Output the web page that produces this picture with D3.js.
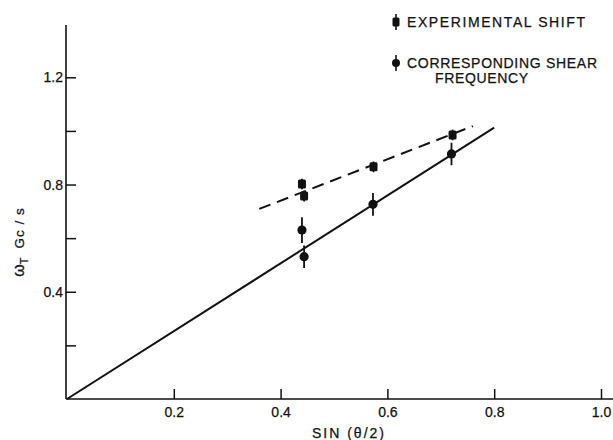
<!DOCTYPE html>
<html>
<head>
<meta charset="utf-8">
<script src="https://cdn.jsdelivr.net/npm/d3@7"></script>
<style>
  html, body { margin: 0; padding: 0; background: #fff; }
  svg text { font-family: "Liberation Sans", Arial, sans-serif; fill: #111; stroke: #111; stroke-width: 0.25; }
</style>
</head>
<body>
<svg id="chart" width="613" height="440"></svg>
<script>
// ---- data ----
const shiftX   = [0.44, 0.444, 0.574, 0.722];
const shiftY   = [0.802, 0.757, 0.866, 0.985];
const shiftErr = [0.02, 0.02, 0.02, 0.02];

const shearX   = [0.44, 0.444, 0.573, 0.72];
const shearY   = [0.630, 0.531, 0.726, 0.914];
const shearErr = [0.048, 0.042, 0.042, 0.042];

const solidLineX = [0, 0.80];
const solidLineY = [0, 1.012];
const dashLineX  = [0.36, 0.76];
const dashLineY  = [0.709, 1.018];

const xTicks = [0.2, 0.4, 0.6, 0.8, 1.0];
const xTickLabels = ["0.2", "0.4", "0.6", "0.8", "1.0"];
const yTicks = [0.2, 0.4, 0.6, 0.8, 1.0, 1.2];
const yTickLabels = ["", "0.4", "", "0.8", "", "1.2"];

const legendLabels = ["EXPERIMENTAL  SHIFT", "CORRESPONDING  SHEAR", "FREQUENCY"];

// ---- scales ----
const svg = d3.select("#chart");
const x = d3.scaleLinear().domain([0, 1]).range([67, 601]);
const y = d3.scaleLinear().domain([0, 1.2]).range([399, 77.3]);
const ink = "#111";

// axes lines
svg.append("line").attr("x1", x(0) - 1).attr("x2", 613).attr("y1", y(0)).attr("y2", y(0))
  .attr("stroke", ink).attr("stroke-width", 1.6);
svg.append("line").attr("x1", x(0) - 1).attr("x2", x(0) - 1).attr("y1", y(0)).attr("y2", 25)
  .attr("stroke", ink).attr("stroke-width", 1.6);

// x axis ticks
const xAxis = d3.axisBottom(x).tickValues(xTicks).tickSizeInner(-10).tickSizeOuter(0)
  .tickPadding(8).tickFormat((d, i) => xTickLabels[i]);
const gx = svg.append("g").attr("transform", `translate(0,${y(0)})`).call(xAxis);
gx.select(".domain").remove();
gx.selectAll(".tick line").attr("stroke", ink).attr("stroke-width", 1.5);
gx.selectAll(".tick text").attr("font-size", 14).attr("fill", ink).attr("font-family", "Liberation Sans, Arial, sans-serif");

// y axis ticks
const yAxis = d3.axisLeft(y).tickValues(yTicks).tickSizeInner(-10).tickSizeOuter(0)
  .tickPadding(3).tickFormat((d, i) => yTickLabels[i]);
const gy = svg.append("g").attr("transform", `translate(${x(0) - 1},0)`).call(yAxis);
gy.select(".domain").remove();
gy.selectAll(".tick line").attr("stroke", ink).attr("stroke-width", 1.5);
gy.selectAll(".tick text").attr("font-size", 14).attr("fill", ink).attr("font-family", "Liberation Sans, Arial, sans-serif");

// axis titles
svg.append("text").attr("x", 349).attr("y", 438).attr("text-anchor", "middle")
  .attr("font-size", 14).attr("letter-spacing", 2)
  .text("SIN (θ/2)");

const yt = svg.append("text").attr("transform", "translate(24,242) rotate(-90)")
  .attr("text-anchor", "middle").attr("font-size", 16);
yt.append("tspan").text("ω");
yt.append("tspan").attr("font-size", 11).attr("dy", 4).text("T");
yt.append("tspan").attr("dy", -4).attr("font-size", 13.5).attr("dx", 9).attr("letter-spacing", 1).text("Gc / s");

// lines
const line = d3.line().x(d => x(d[0])).y(d => y(d[1]));
svg.append("path").datum(solidLineX.map((v, i) => [v, solidLineY[i]]))
  .attr("d", line).attr("fill", "none").attr("stroke", ink).attr("stroke-width", 2);
svg.append("path").datum(dashLineX.map((v, i) => [v, dashLineY[i]]))
  .attr("d", line).attr("fill", "none").attr("stroke", ink).attr("stroke-width", 2)
  .attr("stroke-dasharray", "12,7");

// error bars
function errBars(xs, ys, es) {
  svg.append("g").selectAll("line").data(xs.map((v, i) => [v, ys[i], es[i]])).join("line")
    .attr("x1", d => x(d[0])).attr("x2", d => x(d[0]))
    .attr("y1", d => y(d[1] - d[2])).attr("y2", d => y(d[1] + d[2]))
    .attr("stroke", ink).attr("stroke-width", 1.8);
}
errBars(shiftX, shiftY, shiftErr);
errBars(shearX, shearY, shearErr);

// markers
svg.append("g").selectAll("rect").data(shiftX.map((v, i) => [v, shiftY[i]])).join("rect")
  .attr("x", d => x(d[0]) - 4).attr("y", d => y(d[1]) - 4.5)
  .attr("width", 8).attr("height", 9).attr("rx", 1.5).attr("fill", ink);
svg.append("g").selectAll("circle").data(shearX.map((v, i) => [v, shearY[i]])).join("circle")
  .attr("cx", d => x(d[0])).attr("cy", d => y(d[1])).attr("r", 4.6).attr("fill", ink);

// legend
const lg = svg.append("g");
lg.append("line").attr("x1", 396).attr("x2", 396).attr("y1", 14).attr("y2", 30).attr("stroke", ink).attr("stroke-width", 1.6);
lg.append("rect").attr("x", 392.5).attr("y", 17.5).attr("width", 7).attr("height", 9).attr("rx", 1.5).attr("fill", ink);
lg.append("line").attr("x1", 396).attr("x2", 396).attr("y1", 55).attr("y2", 71).attr("stroke", ink).attr("stroke-width", 1.6);
lg.append("circle").attr("cx", 396).attr("cy", 63).attr("r", 4).attr("fill", ink);

lg.append("text").attr("x", 407).attr("y", 27).attr("font-size", 14)
  .attr("textLength", 178).attr("lengthAdjust", "spacing").text(legendLabels[0]);
lg.append("text").attr("x", 407).attr("y", 68).attr("font-size", 14)
  .attr("textLength", 190).attr("lengthAdjust", "spacing").text(legendLabels[1]);
lg.append("text").attr("x", 435).attr("y", 83).attr("font-size", 14)
  .attr("textLength", 93).attr("lengthAdjust", "spacing").text(legendLabels[2]);
</script>
</body>
</html>
